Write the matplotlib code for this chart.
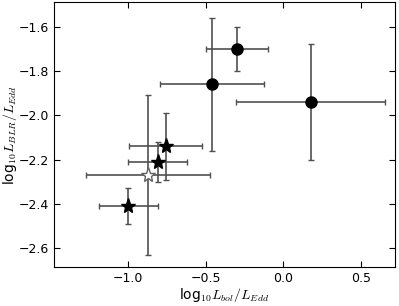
import matplotlib
matplotlib.use('Agg')
import matplotlib.pyplot as plt

plt.rcParams['mathtext.fontset'] = 'cm'

# circles
circX = [-0.30, -0.46, 0.177]
circY = [-1.70, -1.86, -1.94]
circXerr = [0.20, 0.335, 0.48]
circYerr = [0.10, 0.30, 0.26]

# filled stars
starX = [-1.00, -0.81, -0.76]
starY = [-2.41, -2.21, -2.14]
starXerr = [0.19, 0.19, 0.235]
starYerr = [0.08, 0.09, 0.15]

# open star
openX = [-0.87]
openY = [-2.27]
openXerr = [0.40]
openYerr = [0.36]

errColor = '#505050'

fig = plt.figure(figsize=(3.99, 3.06), dpi=100)
ax = fig.add_axes([0.135, 0.127, 0.855, 0.866])

ax.errorbar(circX, circY, xerr=circXerr, yerr=circYerr, fmt='o', color='k', ecolor=errColor,
            markersize=8, capsize=2.5, elinewidth=1.2, capthick=1)
ax.errorbar(starX, starY, xerr=starXerr, yerr=starYerr, fmt='*', color='k', ecolor=errColor,
            markersize=11, capsize=2.5, elinewidth=1.2, capthick=1)
ax.errorbar(openX, openY, xerr=openXerr, yerr=openYerr, fmt='*', mfc='white', mec='#606060', ecolor=errColor,
            markersize=11, capsize=2.5, elinewidth=1.2, capthick=1)

ax.set_xlim(-1.48, 0.72)
ax.set_ylim(-2.685, -1.49)
ax.set_xticks([-1.0, -0.5, 0.0, 0.5])
ax.set_yticks([-2.6, -2.4, -2.2, -2.0, -1.8, -1.6])
ax.tick_params(direction='in', top=True, right=True, labelsize=9, length=4)
ax.set_xlabel(r'log$_{10}L_{bol}/L_{Edd}$', fontsize=10, labelpad=1)
ax.set_ylabel(r'log$_{10}L_{BLR}/L_{Edd}$', fontsize=10, labelpad=0)

fig.savefig('out.png', dpi=100)
